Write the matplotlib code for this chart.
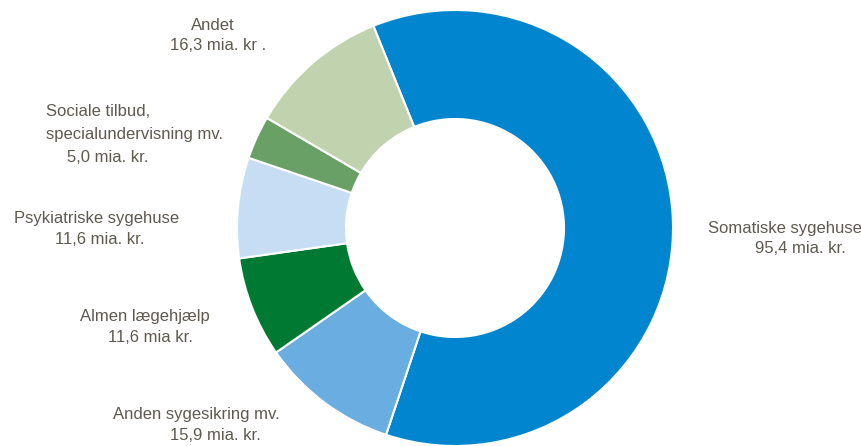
import matplotlib.pyplot as plt
from matplotlib import font_manager

# Udgifter fordelt på områder (mia. kr.)
omraader = ["Somatiske sygehuse", "Anden sygesikring mv.", "Almen lægehjælp",
            "Psykiatriske sygehuse", "Sociale tilbud, specialundervisning mv.", "Andet"]
udgifter = [95.4, 15.9, 11.6, 11.6, 5.0, 16.3]
farver = ["#0085CE", "#6AADE0", "#007A33", "#C6DDF3", "#69A066", "#C0D3AE"]

# Etiketter: (linjer, x-pixel, y-pixel, justering)
etiketter = [
    (["Somatiske sygehuse"], 708, 228, "left"),
    (["95,4 mia. kr."], 755, 248, "left"),
    (["Anden sygesikring mv."], 113, 415, "left"),
    (["15,9 mia. kr."], 170, 435, "left"),
    (["Almen lægehjælp"], 80, 316, "left"),
    (["11,6 mia kr."], 108, 337, "left"),
    (["Psykiatriske sygehuse"], 14, 218, "left"),
    (["11,6 mia. kr."], 55, 240, "left"),
    (["Sociale tilbud,"], 46, 112, "left"),
    (["specialundervisning mv."], 46, 134, "left"),
    (["5,0 mia. kr."], 67, 158, "left"),
    (["Andet"], 213, 26, "center"),
    (["16,3 mia. kr ."], 218, 45, "center"),
]

navne = [f.name for f in font_manager.fontManager.ttflist]
skrift = "Liberation Sans Narrow" if "Liberation Sans Narrow" in navne else "Liberation Sans"
tekstfarve = "#5E5A50"

W, H = 862, 446
fig = plt.figure(figsize=(W / 100, H / 100), dpi=100)

cx, cy, r = 455, 228, 218
ax = fig.add_axes([(cx - r) / W, (H - cy - r) / H, 2 * r / W, 2 * r / H])
ax.pie(udgifter, colors=farver, startangle=112, counterclock=False, radius=1,
       wedgeprops=dict(width=0.5, edgecolor="white", linewidth=1.5))
ax.set_xlim(-1, 1)
ax.set_ylim(-1, 1)
ax.set_aspect("equal")
ax.axis("off")

for linjer, x, y, ha in etiketter:
    fig.text(x / W, 1 - y / H, "\n".join(linjer), ha=ha, va="center",
             fontsize=12, color=tekstfarve, family=skrift)

fig.savefig("out.png", dpi=100, facecolor="white")
